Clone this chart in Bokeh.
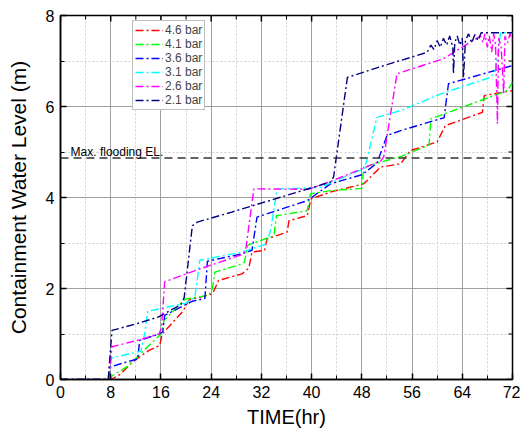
import math
from bokeh.plotting import figure
from bokeh.models import (Range1d, FixedTicker, Span, Label, Legend, LegendItem)
from bokeh.embed import file_html
from bokeh.resources import INLINE

# ---- data ----
series_labels = ["4.6 bar", "4.1 bar", "3.6 bar", "3.1 bar", "2.6 bar", "2.1 bar"]
series_colors = ["#FF0000", "#00FF00", "#0000FF", "#00FFFF", "#FF00FF", "#000080"]

t_46 = [0, 8.0, 9.6, 11.4, 14.1, 15.8, 16.2, 19.5, 20.5, 24.2, 25.2, 28.9, 30.0, 30.5, 32.5, 32.9,
        36.1, 36.4, 39.3, 39.9, 43.0, 48.3, 51.0, 54.2, 55.7, 60.0, 61.3, 67.2, 67.5, 72.0]
v_46 = [0, 0.0, 0.12, 0.38, 0.64, 0.75, 1.0, 1.5, 1.75, 1.88, 2.18, 2.32, 2.45, 2.80, 2.84, 3.09,
        3.24, 3.49, 3.60, 3.97, 4.12, 4.30, 4.67, 4.74, 5.03, 5.22, 5.58, 5.87, 6.24, 6.35]

t_41 = [0, 7.8, 8.2, 10.5, 13.0, 16.0, 16.5, 19.9, 23.6, 24.2, 24.6, 28.9, 29.3, 29.8, 34.0, 34.4,
        39.3, 39.8, 43.0, 48.0, 48.3, 54.2, 58.7, 59.0, 71.2, 72.0]
v_41 = [0, 0.0, 0.08, 0.27, 0.60, 1.0, 1.3, 1.77, 1.85, 2.0, 2.36, 2.54, 2.58, 2.95, 3.16, 3.60,
        3.71, 4.08, 4.15, 4.20, 4.67, 4.90, 5.15, 5.73, 6.35, 6.53]

t_36 = [0, 7.6, 8.0, 10.4, 12.3, 12.6, 15.7, 16.3, 16.6, 21.0, 23.0, 23.4, 28.9, 30.5, 31.3, 39.3,
        43.0, 48.0, 50.4, 52.0, 54.2, 60.5, 61.1, 61.8, 72.0]
v_36 = [0, 0.0, 0.28, 0.38, 0.45, 0.86, 1.0, 1.05, 1.41, 1.72, 1.78, 2.60, 2.76, 2.84, 3.57, 3.93,
        4.30, 4.50, 4.75, 5.36, 5.47, 5.73, 5.75, 6.50, 6.90]

t_31 = [0, 7.7, 8.1, 10.5, 12.8, 13.4, 13.9, 16.0, 20.0, 21.4, 22.2, 28.9, 32.8, 33.5, 34.5, 41.4,
        48.5, 50.4, 54.2, 61.0, 68.5, 69.3, 70.1, 72.0]
v_31 = [0, 0.0, 0.47, 0.55, 0.62, 1.0, 1.50, 1.56, 1.68, 1.81, 2.62, 2.80, 2.98, 3.30, 4.19, 4.22,
        4.65, 5.76, 5.91, 6.30, 6.64, 6.80, 7.62, 7.62]

t_26 = [0, 7.7, 8.2, 12.0, 15.7, 16.1, 16.6, 22.0, 29.0, 29.5, 30.8, 39.5, 43.0, 51.0, 51.5, 53.6,
        61.0, 66.9, 67.3, 67.6, 68.0, 68.3, 68.7, 69.0, 69.3, 69.6, 69.8, 70.2, 70.6, 70.8, 71.2, 71.6, 72.0]
v_26 = [0, 0.0, 0.72, 0.85, 1.0, 1.15, 2.15, 2.42, 2.75, 2.85, 4.19, 4.18, 4.35, 4.80, 4.90, 6.72,
        7.05, 7.55, 7.40, 7.60, 7.30, 7.55, 7.20, 7.60, 7.35, 5.62, 7.50, 7.30, 6.28, 7.55, 7.40, 7.60, 7.45]

t_21 = [0, 7.6, 8.2, 12.0, 15.7, 19.2, 19.7, 21.0, 21.8, 27.3, 43.0, 43.5, 45.7, 52.0, 58.4, 59.0,
        59.5, 60.0, 60.5, 61.0, 61.5, 62.0, 62.5, 62.6, 62.8, 63.2, 63.6, 64.0, 64.2, 64.5, 65.0, 65.5,
        66.0, 66.5, 67.0, 72.0]
v_21 = [0, 0.0, 1.08, 1.22, 1.38, 1.65, 1.80, 3.38, 3.46, 3.68, 4.34, 4.45, 6.64, 6.92, 7.19, 7.35,
        7.25, 7.45, 7.30, 7.50, 7.35, 7.55, 7.30, 6.72, 7.40, 7.55, 7.35, 7.50, 6.64, 7.45, 7.60, 7.40,
        7.58, 7.45, 7.62, 7.62]

series_t = [t_46, t_41, t_36, t_31, t_26, t_21]
series_v = [v_46, v_41, v_36, v_31, v_26, v_21]

x_ticks = [0, 8, 16, 24, 32, 40, 48, 56, 64, 72]
x_minor = [4, 12, 20, 28, 36, 44, 52, 60, 68]
y_ticks = [0, 2, 4, 6, 8]
y_minor = [1, 3, 5, 7]
x_max = 72
y_max = 8
max_flooding_el = 4.87
max_flooding_text = "Max. flooding EL."
x_title = "TIME(hr)"
y_title = "Containment Water Level (m)"

FONT = "Liberation Sans"

p = figure(width=520, height=432, output_backend="svg", toolbar_location=None,
           x_range=Range1d(0, x_max), y_range=Range1d(0, y_max),
           min_border_left=60, min_border_right=8, min_border_top=15, min_border_bottom=53)
p.outline_line_color = "black"
p.outline_line_width = 1.5
p.background_fill_color = "white"
p.border_fill_color = "white"

# grid
for g, tk, mn in ((p.xgrid, x_ticks, x_minor), (p.ygrid, y_ticks, y_minor)):
    g.ticker = FixedTicker(ticks=tk, minor_ticks=mn)
    g.grid_line_color = "#a0a0a0"
    g.grid_line_width = 1
    g.minor_grid_line_color = "#d0d0d0"
    g.minor_grid_line_dash = "2 2"
    g.minor_grid_line_width = 1

for ax, tk, mn in ((p.xaxis[0], x_ticks, x_minor), (p.yaxis[0], y_ticks, y_minor)):
    ax.ticker = FixedTicker(ticks=tk, minor_ticks=mn)
    ax.axis_line_color = "black"
    ax.axis_line_width = 1.5
    ax.major_tick_in = 6
    ax.major_tick_out = 0
    ax.minor_tick_in = 4
    ax.minor_tick_out = 0
    ax.major_tick_line_color = "black"
    ax.major_tick_line_width = 1.5
    ax.minor_tick_line_color = "black"
    ax.minor_tick_line_width = 1
    ax.major_label_text_font = FONT
    ax.major_label_text_font_size = "16px"
    ax.major_label_text_color = "black"
    ax.axis_label_text_font = FONT
    ax.axis_label_text_font_style = "normal"
    ax.axis_label_text_color = "black"

p.xaxis[0].axis_label = x_title
p.yaxis[0].axis_label = y_title
p.xaxis[0].axis_label_text_font_size = "20px"
p.yaxis[0].axis_label_text_font_size = "21px"
p.xaxis[0].major_label_standoff = 6
p.xaxis[0].axis_label_standoff = 5
p.yaxis[0].major_label_standoff = 6
p.yaxis[0].axis_label_standoff = 13

# mirrored inward ticks on top and right edges (screen-length rays)
p.ray(x=x_ticks, y=[y_max] * len(x_ticks), length=6, length_units="screen",
      angle=-math.pi / 2, line_color="black", line_width=1.5)
p.ray(x=x_minor, y=[y_max] * len(x_minor), length=4, length_units="screen",
      angle=-math.pi / 2, line_color="black", line_width=1)
p.ray(x=[x_max] * len(y_ticks), y=y_ticks, length=6, length_units="screen",
      angle=math.pi, line_color="black", line_width=1.5)
p.ray(x=[x_max] * len(y_minor), y=y_minor, length=4, length_units="screen",
      angle=math.pi, line_color="black", line_width=1)

# max flooding level
p.add_layout(Span(location=max_flooding_el, dimension="width", line_color="#333333",
                  line_width=1.5, line_dash="8 5"))
p.add_layout(Label(x=1.6, y=5.0, text=max_flooding_text, text_font=FONT,
                   text_font_size="12px", text_color="black", text_baseline="alphabetic"))

items = []
for lab, col, ts, vs in zip(series_labels, series_colors, series_t, series_v):
    r = p.line(ts, vs, line_color=col, line_width=1.4, line_dash="8 3 2 3")
    items.append(LegendItem(label=lab, renderers=[r]))

legend = Legend(items=items, location=(72, 269), padding=2, spacing=0,
                label_height=14, glyph_height=14, glyph_width=28, label_standoff=2,
                label_text_font=FONT, label_text_font_size="12px",
                border_line_color="#808080", border_line_width=1,
                background_fill_color="white", background_fill_alpha=1, margin=0)
p.add_layout(legend, "center")

open("out.html", "w").write(file_html(p, INLINE))
